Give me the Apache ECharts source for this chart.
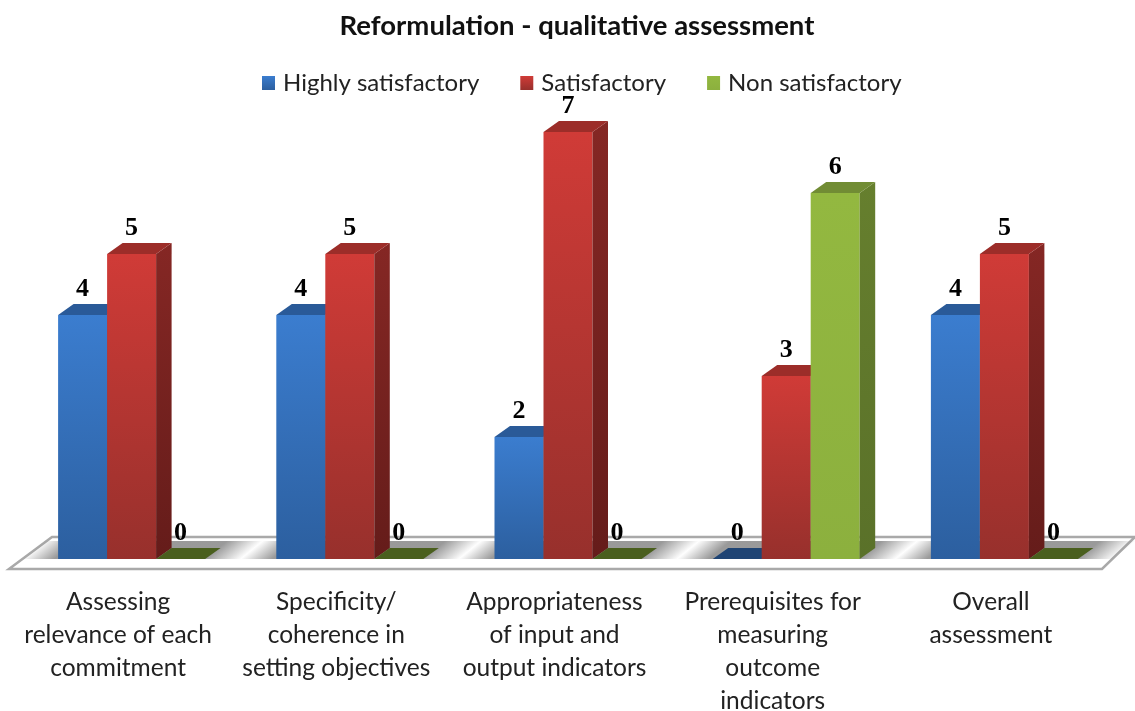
<!DOCTYPE html>
<html>
<head>
<meta charset="utf-8">
<style>html,body{margin:0;background:#fff}#main{width:1135px;height:711px}</style>
<script src="https://cdn.jsdelivr.net/npm/echarts@6/dist/echarts.min.js"></script>
</head>
<body>
<div id="main"></div>
<script>
const categories = [
  'Assessing\nrelevance of each\ncommitment',
  'Specificity/\ncoherence in\nsetting objectives',
  'Appropriateness\nof input and\noutput indicators',
  'Prerequisites for\nmeasuring\noutcome\nindicators',
  'Overall\nassessment'
]
const seriesNames = ['Highly satisfactory', 'Satisfactory', 'Non satisfactory']
const highly = [4, 4, 2, 0, 4]
const satisfactory = [5, 5, 7, 3, 5]
const nonSatisfactory = [0, 0, 0, 6, 0]

const vgrad = (a, b) => new echarts.graphic.LinearGradient(0, 0, 0, 1, [
  { offset: 0, color: a }, { offset: 1, color: b }
])
// front top/bottom, side top/bottom, top face
const faces = [
  { front: ['#3b7dcf', '#2c5f9f'], side: ['#27548c', '#1f4576'], top: '#2a5a98', flat: '#1f4474' },
  { front: ['#d03b37', '#97302c'], side: ['#852724', '#651c1a'], top: '#9c2d29', flat: '#651c1a' },
  { front: ['#93b840', '#8cb03e'], side: ['#667f2e', '#5a7129'], top: '#718c34', flat: '#4a5f1e' }
]
const barW = 49, depthX = 15.5, depthY = 11, groupShift = -60

function poly(points, fill, z2) {
  return { type: 'polygon', z2: z2 || 0, shape: { points }, style: { fill } }
}

function renderBar(params, api) {
  const s = params.seriesIndex - 1
  const f = faces[s]
  const val = api.value(1)
  const base = api.coord([api.value(0), 0])
  const head = api.coord([api.value(0), val])
  const x0 = base[0] + groupShift + barW * s
  const x1 = x0 + barW
  const y0 = base[1]
  const y1 = head[1]
  const children = []
  if (val > 0) {
    children.push(poly([[x0, y0], [x1, y0], [x1, y1], [x0, y1]], vgrad(f.front[0], f.front[1])))
    children.push(poly([[x1, y0], [x1 + depthX, y0 - depthY], [x1 + depthX, y1 - depthY], [x1, y1]], vgrad(f.side[0], f.side[1])))
  }
  children.push(poly([[x0, y1], [x1, y1], [x1 + depthX, y1 - depthY], [x0 + depthX, y1 - depthY]], val > 0 ? f.top : f.flat))
  children.push({
    type: 'text', z2: 5,
    style: {
      x: (x0 + x1) / 2, y: y1 - depthY - 15, text: String(val), align: 'center', verticalAlign: 'middle',
      font: 'bold 26px "Liberation Serif"', fill: '#000'
    }
  })
  return { type: 'group', children }
}

// white floor slab with the soft slanted shadow under every group
function renderFloor(params, api) {
  const c = params.coordSys
  const yb = c.y + c.height
  const children = [{
    type: 'polygon',
    shape: { points: [[c.x, yb + 10], [c.x + c.width + 2, yb + 10], [c.x + c.width + 35, yb - 22], [c.x + 43, yb - 22]] },
    style: { fill: '#fff', stroke: '#a9a9a9', lineWidth: 2.5 }
  }]
  categories.forEach((_, i) => {
    const x = api.coord([i, 0])[0] + groupShift
    const l = x - 36, r = x + barW * 3 + 36
    const H = r - l
    const t = H / 44.9
    const shade = 'rgba(120,120,120,0.75)', clear = 'rgba(120,120,120,0)'
    children.push(poly([[l, yb], [r, yb], [r + 22, yb - 18], [l + 22, yb - 18]],
      new echarts.graphic.LinearGradient(l, yb, l + 18 * t, yb + 22 * t, [
        { offset: 0, color: clear },
        { offset: 32 / H, color: shade },
        { offset: (H - 36) / H, color: shade },
        { offset: 1, color: clear }
      ], true)))
  })
  return { type: 'group', children }
}

const seriesValues = [highly, satisfactory, nonSatisfactory]

const myChart = echarts.init(document.getElementById('main'))
myChart.setOption({
  animation: false,
  title: {
    text: 'Reformulation - qualitative assessment',
    left: 572,
    top: 7,
    textAlign: 'center',
    textStyle: { fontFamily: 'Lato', fontWeight: 'bold', fontSize: 27.5, color: '#111' }
  },
  legend: {
    data: seriesNames,
    left: 257,
    top: 66,
    icon: 'rect',
    itemWidth: 13,
    itemHeight: 14,
    itemGap: 41,
    selectedMode: false,
    textStyle: { fontFamily: 'Lato', fontSize: 24, color: '#222', padding: [0, 0, 0, 3] }
  },
  grid: { left: 9, right: 35, top: 71, bottom: 152, outerBoundsMode: 'none' },
  xAxis: {
    type: 'category',
    data: categories,
    axisLine: { show: false },
    axisTick: { show: false },
    axisLabel: {
      interval: 0, margin: 27, fontFamily: 'Lato', fontSize: 24.5, lineHeight: 33, color: '#222'
    }
  },
  yAxis: { type: 'value', min: 0, max: 8, interval: 1, show: false, splitLine: { show: false } },
  series: [
    { type: 'custom', name: 'floor', silent: true, renderItem: renderFloor, data: [[0, 0]], encode: { x: 0, y: 1 }, z: 1 },
    ...seriesNames.map((name, i) => ({
      type: 'custom',
      name,
      silent: true,
      renderItem: renderBar,
      itemStyle: { color: vgrad(faces[i].front[0], faces[i].front[1]) },
      data: seriesValues[i].map((v, k) => [k, v]),
      encode: { x: 0, y: 1 },
      z: 2 + i
    }))
  ]
})
</script>
</body>
</html>
